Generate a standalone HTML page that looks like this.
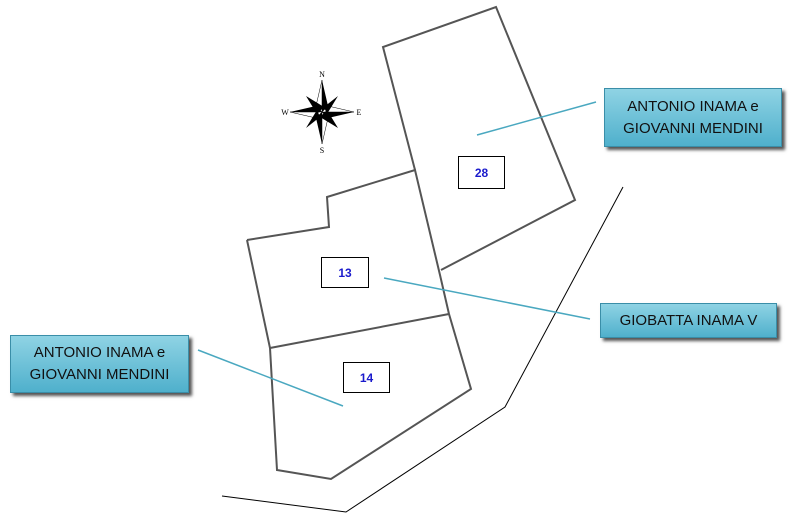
<!DOCTYPE html>
<html><head><style>
body{margin:0;width:800px;height:519px;background:#fff;position:relative;overflow:hidden;font-family:"Liberation Sans",sans-serif}
.b{position:absolute;background:linear-gradient(#8fd3e4,#4fb0cc);border:1px solid #3a8ea8;box-shadow:3px 3px 3px #555;color:#111;font-size:15px;text-align:center;display:flex;align-items:center;justify-content:center;line-height:22px}
.n{position:absolute;border:1px solid #000;background:#fff;color:#1a1acc;font-weight:bold;font-size:12px;display:flex;align-items:center;justify-content:center}
</style></head><body>
<svg width="800" height="519" style="position:absolute;left:0;top:0">
<g fill="none" stroke="#555" stroke-width="2">
<polyline points="415,170 383,47 496,7 575,200 441,270"/>
<polyline points="247,240 329,227 327,197 415,170 440,275 449,314 471,389 331,479 277,470 270,348 247,240"/>
<line x1="270" y1="348" x2="449" y2="314"/>
</g>
<polyline points="623,187 505,407 346,512 222,496" fill="none" stroke="#000" stroke-width="1"/>
<g stroke="#4aa8c0" stroke-width="1.5">
<line x1="477" y1="135" x2="596" y2="102"/>
<line x1="384" y1="278" x2="590" y2="319"/>
<line x1="198" y1="350" x2="343" y2="406"/>
</g>
<g transform="translate(322,112)">
<polygon points="0,-32 6,-6 0,0" fill="#000"/><polygon points="0,-32 -6,-6 0,0" fill="#fff" stroke="#000" stroke-width=".5"/>
<polygon points="0,32 -6,6 0,0" fill="#000"/><polygon points="0,32 6,6 0,0" fill="#fff" stroke="#000" stroke-width=".5"/>
<polygon points="32,0 6,6 0,0" fill="#000"/><polygon points="32,0 6,-6 0,0" fill="#fff" stroke="#000" stroke-width=".5"/>
<polygon points="-32,0 -6,-6 0,0" fill="#000"/><polygon points="-32,0 -6,6 0,0" fill="#fff" stroke="#000" stroke-width=".5"/>
<polygon points="16,-16 2,-5 5,2" fill="#000"/><polygon points="-16,16 -2,5 -5,-2" fill="#000"/>
<polygon points="-16,-16 -5,2 2,-5" fill="#000"/><polygon points="16,16 5,-2 -2,5" fill="#000"/>
<g font-family="Liberation Serif" font-size="8" text-anchor="middle">
<text x="0" y="-35">N</text><text x="0" y="41">S</text><text x="37" y="3">E</text><text x="-37" y="3">W</text></g>
</g>
</svg>
<div class="b" style="left:604px;top:88px;width:176px;height:57px">ANTONIO INAMA e<br>GIOVANNI MENDINI</div>
<div class="b" style="left:600px;top:303px;width:175px;height:33px">GIOBATTA INAMA V</div>
<div class="b" style="left:10px;top:335px;width:177px;height:56px">ANTONIO INAMA e<br>GIOVANNI MENDINI</div>
<div class="n" style="left:458px;top:156px;width:45px;height:31px">28</div>
<div class="n" style="left:321px;top:257px;width:46px;height:29px">13</div>
<div class="n" style="left:343px;top:362px;width:45px;height:29px">14</div>
</body></html>
